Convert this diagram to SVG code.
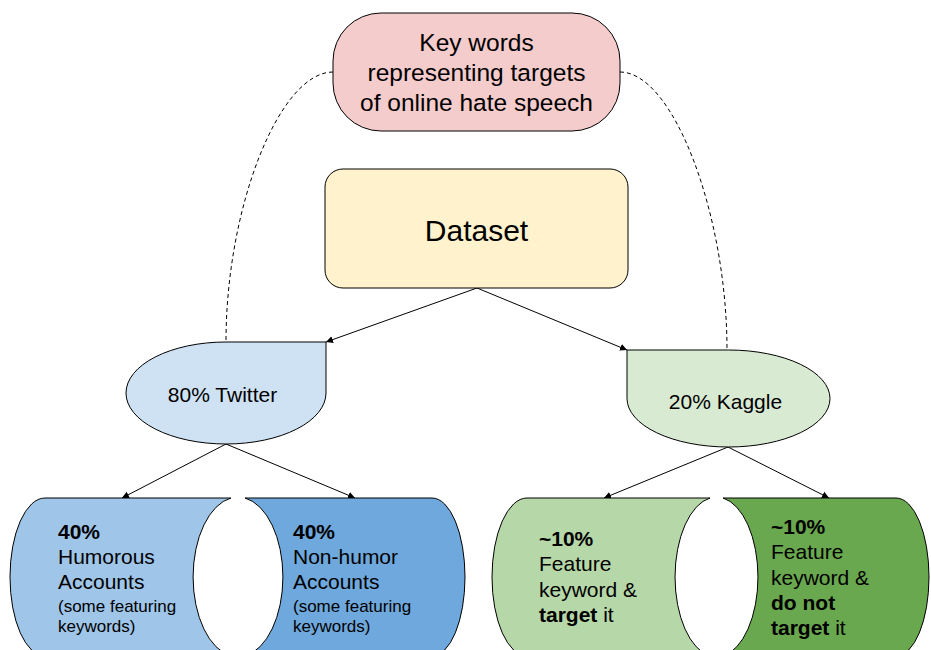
<svg xmlns="http://www.w3.org/2000/svg" width="931" height="650" viewBox="0 0 931 650">
<defs>
<style>
.s{stroke:#000;stroke-width:1}
.t{font-family:"Liberation Sans",Arial,sans-serif;fill:#000}
.c{stroke:#000;stroke-width:1;fill:none}
.d{stroke:#000;stroke-width:1;fill:none;stroke-dasharray:4 3}
.b{font-weight:bold}
</style>
<marker id="ah" markerUnits="userSpaceOnUse" markerWidth="8" markerHeight="8" refX="7" refY="3.5" orient="auto">
<path d="M0,0 L7,3.5 L0,7 z" fill="#000"/>
</marker>
</defs>
<rect width="931" height="650" fill="#fff"/>
<g id="connectors">
<path class="d" d="M333,72 C279.5,72 226,207 226,342"/>
<path class="d" d="M620,72 C673.5,72 727,215 727,350"/>
<path class="c" d="M477,288 L326,342" marker-end="url(#ah)"/>
<path class="c" d="M477,288 L627,350" marker-end="url(#ah)"/>
<path class="c" d="M226,444 L122,498" marker-end="url(#ah)"/>
<path class="c" d="M226,444 L355,498" marker-end="url(#ah)"/>
<path class="c" d="M728,447 L604,498" marker-end="url(#ah)"/>
<path class="c" d="M728,447 L829,498" marker-end="url(#ah)"/>
</g>
<g id="keywords">
<rect class="s" x="333" y="13" width="287" height="118" rx="48" fill="#f4cccc"/>
<text class="t" font-size="24.5" text-anchor="middle"><tspan x="476.5" y="51">Key words</tspan><tspan x="476.5" y="81">representing targets</tspan><tspan x="476.5" y="111">of online hate speech</tspan></text>
</g>
<g id="dataset">
<rect class="s" x="325" y="169" width="303" height="119" rx="18" fill="#fff2cc"/>
<text class="t" font-size="30" text-anchor="middle" x="476.5" y="241">Dataset</text>
</g>
<g id="twitter">
<path class="s" fill="#cfe2f3" d="M226,342 L326,342 L326,393 A100,51 0 0 1 226,444 A100,51 0 0 1 126,393 A100,51 0 0 1 226,342 Z"/>
<text class="t" font-size="21" text-anchor="middle" x="222.5" y="402">80% Twitter</text>
</g>
<g id="kaggle">
<path class="s" fill="#d9ead3" d="M728.5,350 L627,350 L627,398.5 A101.5,48.5 0 0 0 728.5,447 A101.5,48.5 0 0 0 830,398.5 A101.5,48.5 0 0 0 728.5,350 Z"/>
<text class="t" font-size="21" text-anchor="middle" x="725.5" y="409">20% Kaggle</text>
</g>
<g id="humorous">
<path class="s" fill="#9fc5e8" d="M45,498 L231,498 A45,80 0 0 0 231,656 L45,656 A35,79 0 0 1 45,498 Z"/>
<text class="t" font-size="21"><tspan class="b" x="58" y="539">40%</tspan><tspan x="58" y="564">Humorous</tspan><tspan x="58" y="589">Accounts</tspan></text>
<text class="t" font-size="17"><tspan x="58" y="612">(some featuring</tspan><tspan x="58" y="632">keywords)</tspan></text>
</g>
<g id="nonhumor">
<path class="s" fill="#6fa8dc" d="M245,498 L432,498 A33,79 0 0 1 432,656 L245,656 A45,80 0 0 0 245,498 Z"/>
<text class="t" font-size="21"><tspan class="b" x="293" y="539">40%</tspan><tspan x="293" y="564">Non-humor</tspan><tspan x="293" y="589">Accounts</tspan></text>
<text class="t" font-size="17"><tspan x="293" y="612">(some featuring</tspan><tspan x="293" y="632">keywords)</tspan></text>
</g>
<g id="target">
<path class="s" fill="#b6d7a8" d="M527,498 L710,498 A41.5,80 0 0 0 710,656 L527,656 A35,79 0 0 1 527,498 Z"/>
<text class="t" font-size="21"><tspan class="b" x="539" y="546">~10%</tspan><tspan x="539" y="571">Feature</tspan><tspan x="539" y="597">keyword &amp;</tspan><tspan x="539" y="622"><tspan class="b">target</tspan> it</tspan></text>
</g>
<g id="nottarget">
<path class="s" fill="#6aa84f" d="M723,498 L896,498 A33,79 0 0 1 896,656 L723,656 A41.5,80 0 0 0 723,498 Z"/>
<text class="t" font-size="21"><tspan class="b" x="771" y="534">~10%</tspan><tspan x="771" y="559">Feature</tspan><tspan x="771" y="585">keyword &amp;</tspan><tspan class="b" x="771" y="610">do not</tspan><tspan x="771" y="635"><tspan class="b">target</tspan> it</tspan></text>
</g>
</svg>
